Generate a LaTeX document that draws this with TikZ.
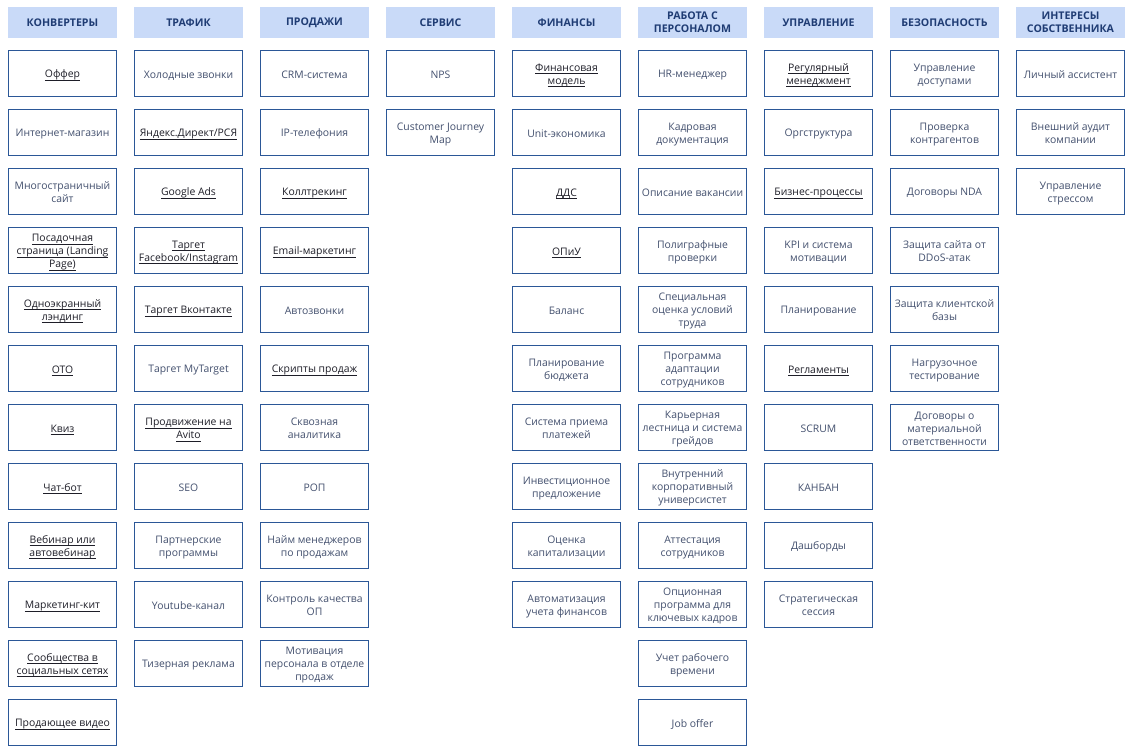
\documentclass[tikz,border=0pt]{standalone}
\usepackage{fontspec}
\setmainfont{Open Sans}
\definecolor{hdrfill}{HTML}{C9DAF8}
\definecolor{hdrtext}{HTML}{1F3C74}
\definecolor{boxline}{HTML}{2B5797}
\definecolor{txtgray}{HTML}{43506E}
\definecolor{txtdark}{HTML}{1E1E28}
\newcommand\ulk[1]{\leavevmode\setbox0\hbox{#1}\rlap{\smash{\rule[-2.4pt]{\wd0}{0.65pt}}}\box0}
\newcommand\bx[4]{\node[#3] (c#1r#2) at ({62.5+126*(#1-1)},{-73.5-59*(#2-1)}) {\rule{0pt}{11pt}#4\rule[-1.2pt]{0pt}{1.2pt}};}
\newcommand\hd[2]{\node[hdr] (h#1) at ({62.5+126*(#1-1)},-22.5) {#2};}
\tikzset{
  box/.style={draw=boxline, line width=1.3pt, fill=white, minimum width=108pt, minimum height=46pt,
    inner sep=0pt, align=center, text=txtgray, font=\fontsize{10.4}{13}\selectfont},
  ubox/.style={box, text=txtdark},
  hdr/.style={fill=hdrfill, minimum width=109pt, minimum height=31pt, inner sep=0pt, align=center,
    text=hdrtext, font=\bfseries\fontsize{10.6}{13}\selectfont}
}
\begin{document}
\begin{tikzpicture}[x=1pt,y=1pt]
\useasboundingbox[fill=white] (0,0) rectangle (1135,-750);
% headers
\hd{1}{КОНВЕРТЕРЫ}
\hd{2}{ТРАФИК}
\hd{3}{ПРОДАЖИ}
\hd{4}{СЕРВИС}
\hd{5}{ФИНАНСЫ}
\hd{6}{РАБОТА С\\ПЕРСОНАЛОМ}
\hd{7}{УПРАВЛЕНИЕ}
\hd{8}{БЕЗОПАСНОСТЬ}
\hd{9}{ИНТЕРЕСЫ\\СОБСТВЕННИКА}
% column 1
\bx{1}{1}{ubox}{\ulk{Оффер}}
\bx{1}{2}{box}{Интернет-магазин}
\bx{1}{3}{box}{Многостраничный\\сайт}
\bx{1}{4}{ubox}{\ulk{Посадочная}\\\ulk{страница (Landing}\\\ulk{Page)}}
\bx{1}{5}{ubox}{\ulk{Одноэкранный}\\\ulk{лэндинг}}
\bx{1}{6}{ubox}{\ulk{ОТО}}
\bx{1}{7}{ubox}{\ulk{Квиз}}
\bx{1}{8}{ubox}{\ulk{Чат-бот}}
\bx{1}{9}{ubox}{\ulk{Вебинар или}\\\ulk{автовебинар}}
\bx{1}{10}{ubox}{\ulk{Маркетинг-кит}}
\bx{1}{11}{ubox}{\ulk{Сообщества в}\\\ulk{социальных сетях}}
\bx{1}{12}{ubox}{\ulk{Продающее видео}}
% column 2
\bx{2}{1}{box}{Холодные звонки}
\bx{2}{2}{ubox}{\ulk{Яндекс.Директ/РСЯ}}
\bx{2}{3}{ubox}{\ulk{Google Ads}}
\bx{2}{4}{ubox}{\ulk{Таргет}\\\ulk{Facebook/Instagram}}
\bx{2}{5}{ubox}{\ulk{Таргет Вконтакте}}
\bx{2}{6}{box}{Таргет MyTarget}
\bx{2}{7}{ubox}{\ulk{Продвижение на}\\\ulk{Avito}}
\bx{2}{8}{box}{SEO}
\bx{2}{9}{box}{Партнерские\\программы}
\bx{2}{10}{box}{Youtube-канал}
\bx{2}{11}{box}{Тизерная реклама}
% column 3
\bx{3}{1}{box}{CRM-система}
\bx{3}{2}{box}{IP-телефония}
\bx{3}{3}{ubox}{\ulk{Коллтрекинг}}
\bx{3}{4}{ubox}{\ulk{Email-маркетинг}}
\bx{3}{5}{box}{Автозвонки}
\bx{3}{6}{ubox}{\ulk{Скрипты продаж}}
\bx{3}{7}{box}{Сквозная\\аналитика}
\bx{3}{8}{box}{РОП}
\bx{3}{9}{box}{Найм менеджеров\\по продажам}
\bx{3}{10}{box}{Контроль качества\\ОП}
\bx{3}{11}{box}{Мотивация\\персонала в отделе\\продаж}
% column 4
\bx{4}{1}{box}{NPS}
\bx{4}{2}{box}{Customer Journey\\Map}
% column 5
\bx{5}{1}{ubox}{\ulk{Финансовая}\\\ulk{модель}}
\bx{5}{2}{box}{Unit-экономика}
\bx{5}{3}{ubox}{\ulk{ДДС}}
\bx{5}{4}{ubox}{\ulk{ОПиУ}}
\bx{5}{5}{box}{Баланс}
\bx{5}{6}{box}{Планирование\\бюджета}
\bx{5}{7}{box}{Система приема\\платежей}
\bx{5}{8}{box}{Инвестиционное\\предложение}
\bx{5}{9}{box}{Оценка\\капитализации}
\bx{5}{10}{box}{Автоматизация\\учета финансов}
% column 6
\bx{6}{1}{box}{HR-менеджер}
\bx{6}{2}{box}{Кадровая\\документация}
\bx{6}{3}{box}{Описание вакансии}
\bx{6}{4}{box}{Полиграфные\\проверки}
\bx{6}{5}{box}{Специальная\\оценка условий\\труда}
\bx{6}{6}{box}{Программа\\адаптации\\сотрудников}
\bx{6}{7}{box}{Карьерная\\лестница и система\\грейдов}
\bx{6}{8}{box}{Внутренний\\корпоративный\\универсистет}
\bx{6}{9}{box}{Аттестация\\сотрудников}
\bx{6}{10}{box}{Опционная\\программа для\\ключевых кадров}
\bx{6}{11}{box}{Учет рабочего\\времени}
\bx{6}{12}{box}{Job offer}
% column 7
\bx{7}{1}{ubox}{\ulk{Регулярный}\\\ulk{менеджмент}}
\bx{7}{2}{box}{Оргструктура}
\bx{7}{3}{ubox}{\ulk{Бизнес-процессы}}
\bx{7}{4}{box}{KPI и система\\мотивации}
\bx{7}{5}{box}{Планирование}
\bx{7}{6}{ubox}{\ulk{Регламенты}}
\bx{7}{7}{box}{SCRUM}
\bx{7}{8}{box}{КАНБАН}
\bx{7}{9}{box}{Дашборды}
\bx{7}{10}{box}{Стратегическая\\сессия}
% column 8
\bx{8}{1}{box}{Управление\\доступами}
\bx{8}{2}{box}{Проверка\\контрагентов}
\bx{8}{3}{box}{Договоры NDA}
\bx{8}{4}{box}{Защита сайта от\\DDoS-атак}
\bx{8}{5}{box}{Защита клиентской\\базы}
\bx{8}{6}{box}{Нагрузочное\\тестирование}
\bx{8}{7}{box}{Договоры о\\материальной\\ответственности}
% column 9
\bx{9}{1}{box}{Личный ассистент}
\bx{9}{2}{box}{Внешний аудит\\компании}
\bx{9}{3}{box}{Управление\\стрессом}
\end{tikzpicture}
\end{document}
